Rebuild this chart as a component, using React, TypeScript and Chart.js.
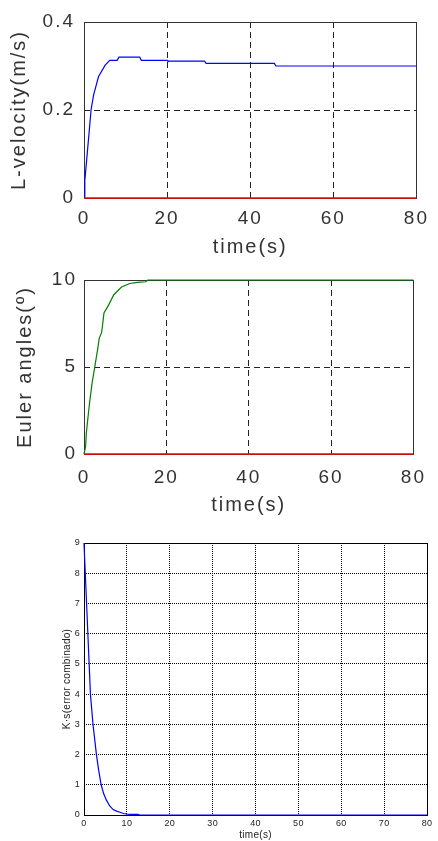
import React, { useEffect, useRef } from "react";
import { Chart, registerables } from "chart.js";

Chart.register(...registerables);

// ---------- data ----------
const velTime = [0, 0.2, 0.7, 1.2, 1.7, 2.3, 3.5, 5.1, 6.2, 8.0, 8.4, 13.4, 13.8, 20.0, 20.2, 29.0, 29.4, 45.8, 46.2, 80];
const velValues = [0, 0.04, 0.093, 0.146, 0.2, 0.234, 0.276, 0.302, 0.313, 0.313, 0.32, 0.32, 0.313, 0.313, 0.311, 0.311, 0.306, 0.306, 0.3, 0.3];

const eulerTime = [0, 0.4, 0.56, 1.33, 1.96, 2.5, 3.3, 3.7, 4.3, 4.85, 6.0, 7.2, 9.1, 11.1, 13, 15, 15.5, 80];
const eulerValues = [0, 0.44, 1.2, 2.9, 4.07, 4.84, 6.0, 6.65, 7.0, 8.1, 8.57, 9.14, 9.6, 9.8, 9.86, 9.9, 10, 10];

const zeroTime = [0, 80];
const zeroValues = [0, 0];

const errTime = [0, 0.3, 0.6, 0.9, 1.2, 1.5, 2.1, 2.9, 3.4, 4.0, 4.6, 5.2, 6.0, 6.8, 7.6, 8.4, 9.2, 10, 11, 12.6, 13, 80];
const errValues = [9, 8, 7, 6, 5, 4, 3, 2, 1.5, 1.0, 0.7, 0.5, 0.3, 0.18, 0.13, 0.09, 0.05, 0.03, 0.02, 0.02, 0, 0];

const timeTicksTop = [0, 20, 40, 60, 80];
const velTicks = [0, 0.2, 0.4];
const eulerTicks = [0, 5, 10];
const errTicks = [0, 1, 2, 3, 4, 5, 6, 7, 8, 9];
const timeTicksBottom = [0, 10, 20, 30, 40, 50, 60, 70, 80];

const toPoints = (xs: number[], ys: number[]) => xs.map((x, i) => ({ x, y: ys[i] }));

const FONT = "'Liberation Sans', Arial, sans-serif";

// ---------- plugins ----------
const framePlugin = {
  id: "frame",
  beforeDatasetsDraw(chart: any, _a: any, opts: any) {
    const { ctx, chartArea: a } = chart;
    ctx.save();
    ctx.setLineDash([]);
    ctx.strokeStyle = opts.color || "#333";
    ctx.lineWidth = 1;
    const l = Math.round(a.left) + 0.5;
    const t = Math.round(a.top) + 0.5;
    const r = Math.round(a.right) + 0.5;
    const b = Math.round(a.bottom) + 0.5;
    ctx.strokeRect(l, t, r - l, b - t);
    ctx.restore();
  },
};

const spacingPlugin = {
  id: "spacing",
  beforeUpdate(chart: any, _a: any, opts: any) {
    (chart.ctx as any).letterSpacing = opts.value || "0px";
  },
  beforeDraw(chart: any, _a: any, opts: any) {
    (chart.ctx as any).letterSpacing = opts.value || "0px";
  },
};

type PanelSpec = {
  height: number;
  datasets: any[];
  xTicks: number[];
  yTicks: number[];
  xTitle: string;
  yTitle: string;
  padTop: number;
  padRight: number;
  yWidth: number;
  xHeight: number;
  tickSize: number;
  titleSize: number;
  tickColor: string;
  gridColor: string;
  gridDash: number[];
  frameColor: string;
  yTickPad: number;
  xTickPad: number;
  yTitlePad: number;
  xTitlePad: number;
  spacing: string;
  yFormat?: (v: number) => string;
};

function Panel({ spec }: { spec: PanelSpec }) {
  const ref = useRef<HTMLCanvasElement>(null);
  useEffect(() => {
    if (!ref.current) return;
    const xMin = spec.xTicks[0];
    const xMax = spec.xTicks[spec.xTicks.length - 1];
    const yMin = spec.yTicks[0];
    const yMax = spec.yTicks[spec.yTicks.length - 1];
    const chart = new Chart(ref.current, {
      type: "line",
      data: { datasets: spec.datasets },
      plugins: [framePlugin, spacingPlugin],
      options: {
        responsive: false,
        animation: false,
        layout: { padding: { top: spec.padTop, right: spec.padRight, left: 0, bottom: 0 } },
        plugins: {
          legend: { display: false },
          tooltip: { enabled: false },
          frame: { color: spec.frameColor },
          spacing: { value: spec.spacing },
        } as any,
        elements: { point: { radius: 0 }, line: { tension: 0 } },
        scales: {
          x: {
            type: "linear",
            min: xMin,
            max: xMax,
            afterFit: (s: any) => {
              s.height = spec.xHeight;
            },
            afterBuildTicks: (s: any) => {
              s.ticks = spec.xTicks.map((v) => ({ value: v }));
            },
            ticks: {
              autoSkip: false,
              maxRotation: 0,
              padding: spec.xTickPad,
              color: spec.tickColor,
              font: { family: FONT, size: spec.tickSize },
            },
            grid: {
              drawTicks: false,
              lineWidth: 1,
              color: (c: any) =>
                c.tick && (c.tick.value === xMin || c.tick.value === xMax) ? "rgba(0,0,0,0)" : spec.gridColor,
            },
            border: { display: false, dash: spec.gridDash },
            title: {
              display: true,
              text: spec.xTitle,
              color: spec.tickColor,
              font: { family: FONT, size: spec.titleSize, lineHeight: 1 },
              padding: { top: 0, bottom: spec.xTitlePad },
            },
          },
          y: {
            type: "linear",
            min: yMin,
            max: yMax,
            afterFit: (s: any) => {
              s.width = spec.yWidth;
            },
            afterBuildTicks: (s: any) => {
              s.ticks = spec.yTicks.map((v) => ({ value: v }));
            },
            ticks: {
              autoSkip: false,
              padding: spec.yTickPad,
              color: spec.tickColor,
              font: { family: FONT, size: spec.tickSize },
              callback: (v: any) => (spec.yFormat ? spec.yFormat(Number(v)) : String(v)),
            },
            grid: {
              drawTicks: false,
              lineWidth: 1,
              color: (c: any) =>
                c.tick && (c.tick.value === yMin || c.tick.value === yMax) ? "rgba(0,0,0,0)" : spec.gridColor,
            },
            border: { display: false, dash: spec.gridDash },
            title: {
              display: true,
              text: spec.yTitle,
              color: spec.tickColor,
              font: { family: FONT, size: spec.titleSize, lineHeight: 1 },
              padding: { top: spec.yTitlePad, bottom: 0 },
            },
          },
        },
      } as any,
    });
    return () => chart.destroy();
  }, [spec]);
  return <canvas ref={ref} width={438} height={spec.height} style={{ display: "block" }} />;
}

const lineDs = (xs: number[], ys: number[], color: string, width = 1) => ({
  data: toPoints(xs, ys),
  borderColor: color,
  backgroundColor: color,
  borderWidth: width,
  pointRadius: 0,
  fill: false,
  clip: false,
});

const velSpec: PanelSpec = {
  height: 260,
  datasets: [lineDs(zeroTime, zeroValues, "#ff0000", 1.3), lineDs(velTime, velValues, "#0000ff", 1.2)],
  xTicks: timeTicksTop,
  yTicks: velTicks,
  xTitle: "time(s)",
  yTitle: "L-velocity(m/s)",
  padTop: 22,
  padRight: 12,
  yWidth: 84,
  xHeight: 62,
  tickSize: 19,
  titleSize: 20,
  tickColor: "#333",
  gridColor: "#222",
  gridDash: [6, 4],
  frameColor: "#333",
  yTickPad: 9,
  xTickPad: 9,
  yTitlePad: 9,
  xTitlePad: 3,
  spacing: "2px",
};

const eulerSpec: PanelSpec = {
  height: 260,
  datasets: [lineDs(zeroTime, zeroValues, "#ff0000", 1.3), lineDs(eulerTime, eulerValues, "#008000", 1.2)],
  xTicks: timeTicksTop,
  yTicks: eulerTicks,
  xTitle: "time(s)",
  yTitle: "Euler angles(º)",
  padTop: 20,
  padRight: 13,
  yWidth: 84,
  xHeight: 66,
  tickSize: 19,
  titleSize: 20,
  tickColor: "#333",
  gridColor: "#222",
  gridDash: [6, 4],
  frameColor: "#333",
  yTickPad: 7,
  xTickPad: 12,
  yTitlePad: 15,
  xTitlePad: 5,
  spacing: "2px",
};

const errSpec: PanelSpec = {
  height: 321,
  datasets: [lineDs(errTime, errValues, "#0000ff", 1.2)],
  xTicks: timeTicksBottom,
  yTicks: errTicks,
  xTitle: "time(s)",
  yTitle: "K·s(error combinado)",
  padTop: 23,
  padRight: 11,
  yWidth: 84,
  xHeight: 26,
  tickSize: 9,
  titleSize: 10,
  tickColor: "#222",
  gridColor: "#000",
  gridDash: [1, 1],
  frameColor: "#000",
  yTickPad: 4,
  xTickPad: 3,
  yTitlePad: 62,
  xTitlePad: 1,
  spacing: "0.3px",
};

export default function App() {
  return (
    <div style={{ position: "absolute", left: 0, top: 0, width: 438, height: 841, background: "#fff" }}>
      <Panel spec={velSpec} />
      <Panel spec={eulerSpec} />
      <Panel spec={errSpec} />
    </div>
  );
}
